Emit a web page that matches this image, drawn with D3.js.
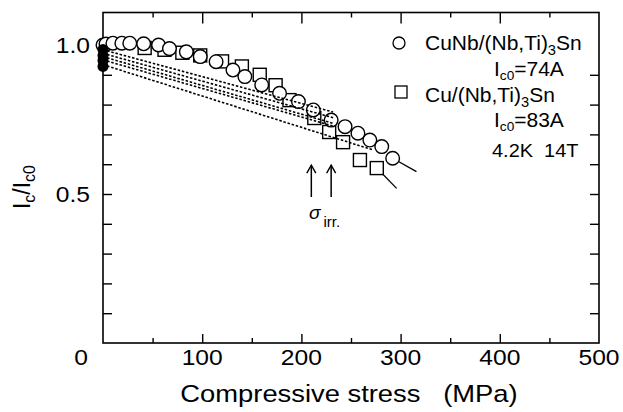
<!DOCTYPE html>
<html><head><meta charset="utf-8">
<script src="https://cdn.jsdelivr.net/npm/d3@7"></script>
<style>body{margin:0;background:#fff}text{font-family:"Liberation Sans",Arial,sans-serif;fill:#000}</style>
</head><body>
<svg id="c" width="623" height="412"></svg>
<script>
// ---- data ----
const xTicksMajor = [100, 200, 300, 400];
const xTicksMinor = [50, 150, 250, 350, 450];
const xTickLabels = ["100", "200", "300", "400", "500"];
const xTickLabelValues = [100, 200, 300, 400, 500];
const yTicks = [0.1, 0.2, 0.3, 0.4, 0.5, 0.6, 0.7, 0.8, 0.9];
const yTickLabels = ["0.5", "1.0"];
const yTickLabelValues = [0.5, 1.0];
// CuNb/(Nb,Ti)3Sn (open circles): [stress MPa, Ic/Ic0]
const cuNbStress = [0, 3, 10, 19, 27, 41, 56, 67, 84, 98, 114, 131, 143, 160, 178, 197, 212, 230, 244, 257, 269, 281, 292];
const cuNbValue  = [1.0, 1.003, 1.006, 1.006, 1.006, 1.004, 1.0, 0.988, 0.977, 0.961, 0.944, 0.916, 0.894, 0.866, 0.838, 0.81, 0.782, 0.748, 0.726, 0.704, 0.681, 0.659, 0.62];
// Cu/(Nb,Ti)3Sn (open squares)
const cuStress = [42, 62, 80, 98, 120, 140, 158, 174, 188, 213, 228, 242, 259, 276];
const cuValue  = [0.99, 0.984, 0.974, 0.965, 0.945, 0.928, 0.9, 0.865, 0.815, 0.755, 0.708, 0.674, 0.614, 0.587];
// filled points at zero stress
const filledStress = [0, 0, 0, 0];
const filledValue  = [0.985, 0.965, 0.948, 0.928];
// solid tails after the last points
const cuNbTail = [[292, 0.62], [316, 0.575]];
const cuTail   = [[276, 0.587], [296, 0.519]];
// dotted lines [x0, y0, x1, y1]
const dottedLines = [
  [0, 0.984, 232, 0.775],
  [0, 0.972, 232, 0.756],
  [0, 0.961, 232, 0.737],
  [0, 0.950, 232, 0.728],
  [0, 0.934, 272, 0.648]
];
const arrowStress = [210, 230];
const arrowRange = [0.49, 0.597];

// ---- chart ----
const svg = d3.select("#c");
const x = d3.scaleLinear().domain([0, 500]).range([103, 599]);
const y = d3.scaleLinear().domain([0, 1]).range([343, 45]);
const frameTop = 12.5;

function txt(px, py, anchor, size, sx) {
  return svg.append("text").attr("transform", `translate(${px},${py}) scale(${sx},1)`)
    .attr("text-anchor", anchor).style("font-size", size + "px");
}

// axes
function axisStyle(g) { g.selectAll("path").remove(); g.selectAll("line").attr("stroke", "#000").attr("stroke-width", 1.4); g.selectAll("text").remove(); }
svg.append("g").attr("transform", "translate(0,343)").call(d3.axisBottom(x).tickValues(xTicksMajor).tickSize(-9)).call(axisStyle);
svg.append("g").attr("transform", "translate(0,343)").call(d3.axisBottom(x).tickValues(xTicksMinor).tickSize(-5)).call(axisStyle);
svg.append("g").attr("transform", `translate(0,${frameTop})`).call(d3.axisTop(x).tickValues(xTicksMajor).tickSize(-11)).call(axisStyle);
svg.append("g").attr("transform", `translate(0,${frameTop})`).call(d3.axisTop(x).tickValues(xTicksMinor).tickSize(-5)).call(axisStyle);
svg.append("g").attr("transform", "translate(103,0)").call(d3.axisLeft(y).tickValues(yTicks).tickSize(-9)).call(axisStyle);
svg.append("g").attr("transform", "translate(599,0)").call(d3.axisRight(y).tickValues(yTicks).tickSize(-9)).call(axisStyle);
svg.append("rect").attr("x", 103).attr("y", frameTop).attr("width", 599 - 103).attr("height", 343 - frameTop)
  .attr("fill", "none").attr("stroke", "#000").attr("stroke-width", 1.6);

// tick labels
xTickLabelValues.forEach((v, i) => txt(x(v), 365, "middle", 22, 1.12).text(xTickLabels[i]));
yTickLabelValues.forEach((v, i) => txt(90, y(v) + 8, "end", 22, 1.12).text(yTickLabels[i]));
txt(88, 365, "end", 22, 1.12).text("0");

// axis titles
txt(349, 402, "middle", 24, 1.14).text("Compressive stress\u00a0\u00a0\u00a0(MPa)");
const yt = svg.append("text").attr("transform", "translate(30,187) rotate(-90)").attr("text-anchor", "middle").style("font-size", "23px");
yt.append("tspan").text("I");
yt.append("tspan").attr("dy", 5).style("font-size", "16px").text("c");
yt.append("tspan").attr("dy", -5).text("/I");
yt.append("tspan").attr("dy", 5).style("font-size", "16px").text("c0");

// tails
const line = d3.line().x(d => x(d[0])).y(d => y(d[1]));
[cuNbTail, cuTail].forEach(t => svg.append("path").attr("d", line(t)).attr("fill", "none").attr("stroke", "#000").attr("stroke-width", 1.3));

// squares
const sq = 13;
svg.selectAll("rect.sq").data(cuStress).join("rect").attr("class", "sq")
  .attr("x", (d) => x(d) - sq / 2).attr("y", (d, i) => y(cuValue[i]) - sq / 2)
  .attr("width", sq).attr("height", sq).attr("fill", "#fff").attr("stroke", "#000").attr("stroke-width", 1.4);
// circles
svg.selectAll("circle.cn").data(cuNbStress).join("circle").attr("class", "cn")
  .attr("cx", d => x(d)).attr("cy", (d, i) => y(cuNbValue[i])).attr("r", 6.8)
  .attr("fill", "#fff").attr("stroke", "#000").attr("stroke-width", 1.4);
// filled
svg.selectAll("circle.f").data(filledStress).join("circle").attr("class", "f")
  .attr("cx", d => x(d)).attr("cy", (d, i) => y(filledValue[i])).attr("r", 5.5).attr("fill", "#000");

// dotted lines
dottedLines.forEach(l => svg.append("line").attr("x1", x(l[0])).attr("y1", y(l[1])).attr("x2", x(l[2])).attr("y2", y(l[3]))
  .attr("stroke", "#000").attr("stroke-width", 1.6).attr("stroke-dasharray", "2.5,1.8"));

// arrows
arrowStress.forEach(s => {
  const ax = x(s), y0 = y(arrowRange[0]), y1 = y(arrowRange[1]);
  svg.append("line").attr("x1", ax).attr("x2", ax).attr("y1", y0).attr("y2", y1).attr("stroke", "#000").attr("stroke-width", 1.5);
  svg.append("path").attr("d", `M${ax - 4.5},${y1 + 8}L${ax},${y1}L${ax + 4.5},${y1 + 8}`).attr("fill", "none").attr("stroke", "#000").attr("stroke-width", 1.4);
});
const sg = svg.append("text").attr("x", 309).attr("y", 219).style("font-size", "19px");
sg.append("tspan").style("font-style", "italic").text("σ");
sg.append("tspan").attr("dx", 3).attr("dy", 8).style("font-size", "15px").text("irr.");

// legend
svg.append("circle").attr("cx", 399).attr("cy", 43).attr("r", 6).attr("fill", "#fff").attr("stroke", "#000").attr("stroke-width", 1.3);
svg.append("rect").attr("x", 395).attr("y", 86).attr("width", 12).attr("height", 12).attr("fill", "#fff").attr("stroke", "#000").attr("stroke-width", 1.3);
function chem(px, py, pre) {
  const t = txt(px, py, "start", 20, 1.05);
  t.append("tspan").text(pre + "/(Nb,Ti)");
  t.append("tspan").attr("dy", 5).style("font-size", "14px").text("3");
  t.append("tspan").attr("dy", -5).text("Sn");
}
chem(425, 50, "CuNb");
chem(425, 102, "Cu");
function ic(px, py, val) {
  const t = txt(px, py, "start", 20, 1.05);
  t.append("tspan").text("I");
  t.append("tspan").attr("dy", 4).style("font-size", "13px").text("c0");
  t.append("tspan").attr("dy", -4).text("=" + val);
}
ic(494, 76, "74A");
ic(494, 127, "83A");
txt(492, 157, "start", 19, 1.05).text("4.2K\u00a0\u00a014T");
</script>
</body></html>
